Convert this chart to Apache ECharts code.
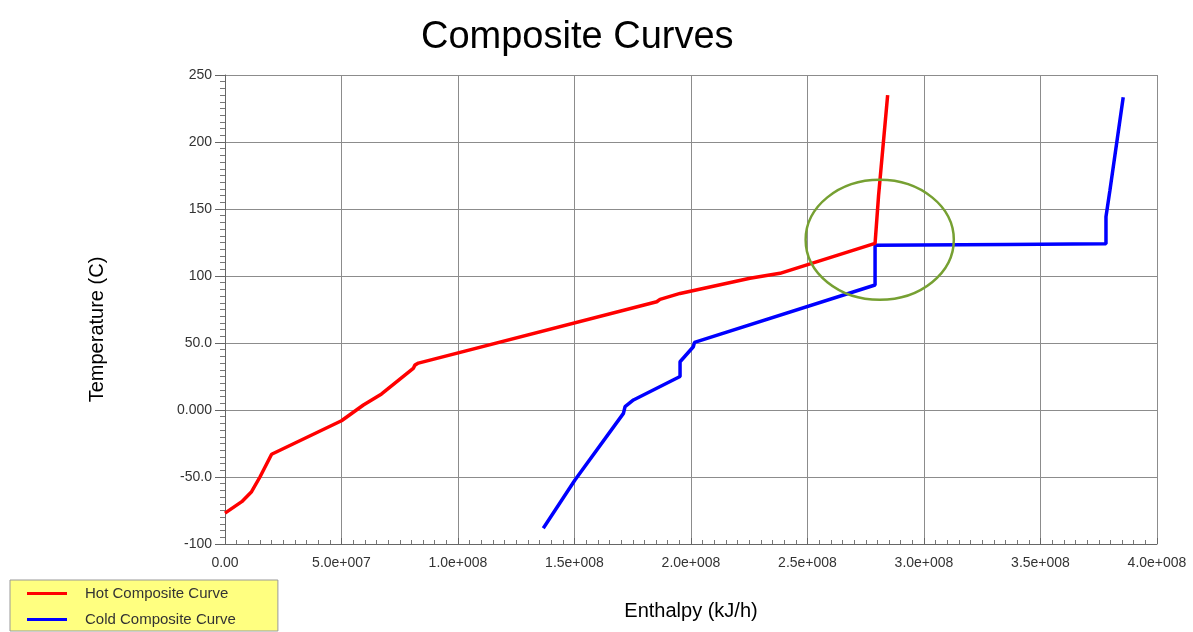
<!DOCTYPE html>
<html>
<head>
<meta charset="utf-8">
<script src="https://cdn.jsdelivr.net/npm/echarts@6/dist/echarts.min.js"></script>
<style>
  html, body { margin: 0; padding: 0; background: #fff; }
  #chart { width: 1193px; height: 632px; }
</style>
</head>
<body>
<div id="chart"></div>
<script>
// hot composite curve: [enthalpy kJ/h, temperature C]
var hotCurve = [
  [0, -77], [7.2e6, -68.4], [11.4e6, -61], [15e6, -50], [20e6, -33],
  [50e6, -8], [59.4e6, 3.7], [67.2e6, 12], [80.8e6, 31], [81.5e6, 33.5],
  [83e6, 35], [185.3e6, 80.8], [186.7e6, 82.6], [195.3e6, 87],
  [225.3e6, 98.3], [238.2e6, 102], [279e6, 124.4], [280.5e6, 160],
  [284.4e6, 235]
];
// cold composite curve
var coldCurve = [
  [136.6e6, -88.3], [150.2e6, -52.2], [171e6, -2.5], [171.7e6, 2.5],
  [175.3e6, 7.5], [195.3e6, 25], [195.3e6, 36], [201e6, 47.2],
  [201.5e6, 50.5], [279e6, 93.3], [279e6, 123], [335.5e6, 123.5],
  [378.1e6, 124], [378.1e6, 144.3], [379.8e6, 164], [385.5e6, 233.4]
];
var xTickValues = [0, 5e7, 1e8, 1.5e8, 2e8, 2.5e8, 3e8, 3.5e8, 4e8];
var xTickLabels = ['0.00', '5.0e+007', '1.0e+008', '1.5e+008', '2.0e+008',
  '2.5e+008', '3.0e+008', '3.5e+008', '4.0e+008'];
var yTickValues = [-100, -50, 0, 50, 100, 150, 200, 250];
var yTickLabels = ['-100', '-50.0', '0.000', '50.0', '100', '150', '200', '250'];
// pinch region highlight (centre and radii in data units)
var pinchCentre = [281e6, 127];
var pinchRadius = [31.8e6, 44.8];

function tickLabel(values, labels) {
  return function (v) {
    for (var i = 0; i < values.length; i++) {
      if (Math.abs(values[i] - v) < 1e-6 * Math.max(1, Math.abs(v))) return labels[i];
    }
    return '';
  };
}

var font = '"Liberation Sans", Arial, sans-serif';
var myChart = echarts.init(document.getElementById('chart'));
myChart.setOption({
  animation: false,
  title: {
    text: 'Composite Curves',
    left: 416,
    top: 14,
    textStyle: { fontFamily: font, fontSize: 38, fontWeight: 'normal', color: '#000' }
  },
  grid: { left: 225, right: 36, top: 75, bottom: 88 },
  legend: {
    orient: 'vertical',
    left: 10,
    top: 580,
    backgroundColor: '#ffff80',
    borderColor: '#999',
    borderWidth: 1,
    padding: [6, 42, 4, 17],
    itemGap: 11,
    itemWidth: 40,
    itemHeight: 3,
    icon: 'rect',
    textStyle: { fontFamily: font, fontSize: 15, color: '#333', lineHeight: 15, padding: [0, 0, 0, 13] },
    data: ['Hot Composite Curve', 'Cold Composite Curve']
  },
  xAxis: {
    type: 'value',
    min: 0,
    max: 4e8,
    interval: 5e7,
    name: 'Enthalpy (kJ/h)',
    nameLocation: 'middle',
    nameGap: 57,
    nameTextStyle: { fontFamily: font, fontSize: 20, color: '#000' },
    axisLine: { show: true, onZero: false, lineStyle: { color: '#666' } },
    axisTick: { show: true, inside: true, length: 6, lineStyle: { color: '#666' } },
    minorTick: { show: true, splitNumber: 10, length: 4, lineStyle: { color: '#777' } },
    axisLabel: {
      fontFamily: font, fontSize: 14, color: '#333', margin: 12,
      formatter: tickLabel(xTickValues, xTickLabels)
    },
    splitLine: { show: true, lineStyle: { color: '#8c8c8c', width: 1 } }
  },
  yAxis: {
    type: 'value',
    min: -100,
    max: 250,
    interval: 50,
    name: 'Temperature (C)',
    nameLocation: 'middle',
    nameRotate: 90,
    nameGap: 118,
    nameTextStyle: { fontFamily: font, fontSize: 20, color: '#000', padding: [0, 40, 0, 0] },
    axisLine: { show: true, onZero: false, lineStyle: { color: '#666' } },
    axisTick: { show: true, length: 10, lineStyle: { color: '#666' } },
    minorTick: { show: true, splitNumber: 10, length: 5, lineStyle: { color: '#777' } },
    axisLabel: {
      fontFamily: font, fontSize: 14, color: '#333', margin: 13,
      formatter: tickLabel(yTickValues, yTickLabels)
    },
    splitLine: { show: true, lineStyle: { color: '#8c8c8c', width: 1 } }
  },
  series: [{
    name: 'Hot Composite Curve',
    type: 'line',
    data: hotCurve,
    symbol: 'none',
    color: '#ff0000',
    lineStyle: { color: '#ff0000', width: 3.5 },
    z: 3
  }, {
    name: 'Cold Composite Curve',
    type: 'line',
    data: coldCurve,
    symbol: 'none',
    color: '#0000ff',
    lineStyle: { color: '#0000ff', width: 3.5 },
    z: 2
  }]
});

// ellipse highlighting the pinch, placed through the axis scales
var c = myChart.convertToPixel({ gridIndex: 0 }, pinchCentre);
var e = myChart.convertToPixel({ gridIndex: 0 }, [pinchCentre[0] + pinchRadius[0], pinchCentre[1] + pinchRadius[1]]);
myChart.setOption({
  graphic: [{
    type: 'ellipse',
    shape: { cx: c[0], cy: c[1], rx: Math.abs(e[0] - c[0]), ry: Math.abs(e[1] - c[1]) },
    style: { fill: null, stroke: '#76a032', lineWidth: 2.5 },
    z: 10
  }]
});
</script>
</body>
</html>
